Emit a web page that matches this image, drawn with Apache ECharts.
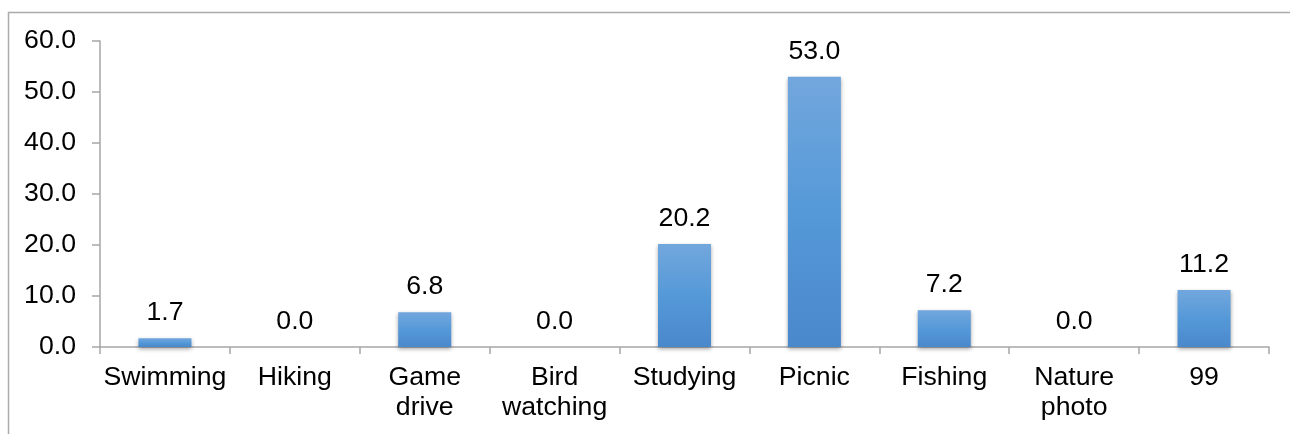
<!DOCTYPE html>
<html>
<head>
<meta charset="utf-8">
<script src="https://cdn.jsdelivr.net/npm/echarts@6/dist/echarts.min.js"></script>
<style>
  html, body { margin: 0; padding: 0; background: #fff; }
  #chart { width: 1290px; height: 434px; }
</style>
</head>
<body>
<div id="chart"></div>
<script>
// Activity categories and their shares (%)
const categories = ['Swimming', 'Hiking', 'Game\ndrive', 'Bird\nwatching', 'Studying', 'Picnic', 'Fishing', 'Nature\nphoto', '99'];
const values = [1.7, 0.0, 6.8, 0.0, 20.2, 53.0, 7.2, 0.0, 11.2];
const yTicks = { min: 0, max: 60, interval: 10 };

const FONT = 'Liberation Sans, Arial, sans-serif';
const FS = 26.67;

const chart = echarts.init(document.getElementById('chart'), null, { renderer: 'canvas' });

chart.setOption({
  animation: false,
  backgroundColor: '#ffffff',
  graphic: [{
    type: 'rect',
    silent: true,
    z: -1,
    shape: { x: 8.5, y: 12.5, width: 1400, height: 600 },
    style: { fill: 'none', stroke: '#ababab', lineWidth: 1.5 }
  }],
  grid: { left: 100, right: 21, top: 41, bottom: 87, containLabel: false },
  xAxis: {
    type: 'category',
    data: categories,
    boundaryGap: true,
    axisLine: { show: true, lineStyle: { color: '#a6a6a6', width: 1.5 } },
    axisTick: { show: true, alignWithLabel: false, length: 7, lineStyle: { color: '#a6a6a6', width: 1.5 } },
    axisLabel: {
      interval: 0,
      margin: 16,
      color: '#000',
      fontFamily: FONT,
      fontSize: FS,
      lineHeight: 30,
      align: 'center'
    },
    splitLine: { show: false }
  },
  yAxis: {
    type: 'value',
    min: yTicks.min,
    max: yTicks.max,
    interval: yTicks.interval,
    axisLine: { show: true, lineStyle: { color: '#a6a6a6', width: 1.5 } },
    axisTick: { show: true, length: 8, lineStyle: { color: '#a6a6a6', width: 1.5 } },
    axisLabel: {
      margin: 24,
      color: '#000',
      fontFamily: FONT,
      fontSize: FS,
      formatter: v => v.toFixed(1)
    },
    splitLine: { show: false }
  },
  series: [{
    type: 'bar',
    data: values,
    barWidth: 53,
    itemStyle: {
      color: new echarts.graphic.LinearGradient(0, 0, 0, 1, [
        { offset: 0, color: '#72a7dd' },
        { offset: 0.5, color: '#5599d8' },
        { offset: 1, color: '#4a88cc' }
      ]),
      shadowColor: 'rgba(0,0,0,0.35)',
      shadowBlur: 4,
      shadowOffsetY: 2
    },
    label: {
      show: true,
      position: 'top',
      distance: 12,
      color: '#000',
      fontFamily: FONT,
      fontSize: FS,
      formatter: p => p.value.toFixed(1)
    }
  }]
});
</script>
</body>
</html>
